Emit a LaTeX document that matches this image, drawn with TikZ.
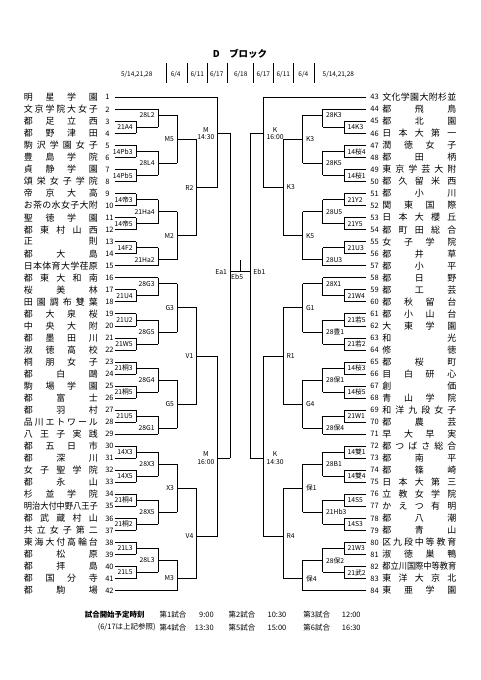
\documentclass[tikz,border=0pt]{standalone}
\usepackage{fontspec}
\setmainfont{Noto Sans CJK JP}
\usepackage{graphicx}

% noms repartis sur toute la largeur
\newlength\namew \setlength\namew{74bp}
\newsavebox\nmbox
\def\spreadchars#1#2\relax{#1\ifx\relax#2\relax\else\hfill\spreadchars#2\relax\fi}
\newcommand\teamnameX[1]{\sbox\nmbox{#1}%
  \ifdim\wd\nmbox>\namew\resizebox{\namew}{\height}{\usebox\nmbox}%
  \else\makebox[\namew][s]{\spreadchars#1\relax}\fi}
\newcommand\teamname[1]{\edef\tmpnm{#1}\expandafter\teamnameX\expandafter{\tmpnm}}

% colonnes
\def\cLa{114.5}\def\cLb{136}\def\cLc{158}\def\cLd{177.3}\def\cLe{196.7}\def\cLf{217.7}\def\cLg{230.3}
\def\cRa{366}\def\cRb{344.3}\def\cRc{322.7}\def\cRd{302.7}\def\cRe{283.3}\def\cRf{263.3}\def\cRg{250}

\newcounter{mc}
% match : x verticale, h haut, h bas, h sortie, x suivant, etiquette
\newcommand\mL[6]{\stepcounter{mc}%
  \draw (#1,#2)--(#1,#3) (#1,#4)--(#5,#4);
  \node[lblL] (m\themc) at (#1,#4) {#6};}
\newcommand\mR[6]{\stepcounter{mc}%
  \draw (#1,#2)--(#1,#3) (#1,#4)--(#5,#4);
  \node[lblR] (m\themc) at (#1,#4) {#6};}

\begin{document}
\begin{tikzpicture}[x=1bp,y=-1bp,line width=0.7bp]
\tikzstyle{lblL} = [anchor=east,xshift=-3bp,inner sep=0pt,align=center,font=\fontsize{6.8}{7.6}\selectfont]
\tikzstyle{lblR} = [anchor=west,xshift=3bp,inner sep=0pt,align=center,font=\fontsize{6.8}{7.6}\selectfont]
\tikzstyle{nameL} = [anchor=west,inner sep=0pt,font=\fontsize{9}{9}\selectfont]
\tikzstyle{numL} = [anchor=west,inner sep=0pt,font=\fontsize{7.5}{8}\selectfont]
\tikzstyle{datebox} = [inner sep=0pt,font=\fontsize{6.5}{7}\selectfont]
\tikzstyle{foot} = [inner sep=0pt,font=\fontsize{7.5}{8}\selectfont]
\useasboundingbox[fill=white] (0,0) rectangle (481,680);

%titre et dates
\node[font=\bfseries\fontsize{9.5}{10}\selectfont] (titre) at (240,54) {D　ブロック};
\foreach \x/\d [count=\k] in {136.7/{5/14,21,28},175.7/{6/4},197.3/{6/11},216.7/{6/17},240.7/{6/18},
  263.3/{6/17},283.3/{6/11},303.3/{6/4},338.3/{5/14,21,28}}
  \node[datebox] (d\k) at (\x,74.3) {\d};
\foreach \x in {166.7,187.3,207.3,227.7,253.3,273.3,293.3,314}
  \draw[line width=0.5bp] (\x,63)--(\x,83);

\begin{scope}[shift={(0,97.3)},y=-6.015bp]
%equipes gauche
\foreach \i/\nm in {1/明星学園,2/文京学院大女子,3/都足立西,4/都野津田,5/駒沢学園女子,6/豊島学院,
  7/貞静学園,8/頌栄女子学院,9/帝京大高,10/お茶の水女子大附,11/聖徳学園,12/都東村山西,13/正則,
  14/都大島,15/日本体育大学荏原,16/都東大和南,17/桜美林,18/田園調布雙葉,19/都大泉桜,20/中央大附,
  21/都墨田川,22/淑徳高校,23/桐朋女子,24/都白鷗,25/駒場学園,26/都富士,27/都羽村,28/品川エトワール,
  29/八王子実践,30/都五日市,31/都深川,32/女子聖学院,33/都永山,34/杉並学院,35/明治大付中野八王子,
  36/都武蔵村山,37/共立女子第二,38/東海大付高輪台,39/都松原,40/都拝島,41/都国分寺,42/都駒場}{
  \node[nameL] (a\i) at (23.5,{2*(\i-1)}) {\teamname{\nm}};
  \node[numL] (n\i) at (105,{2*(\i-1)}) {\i};
}
%equipes droite
\foreach \i/\nm in {43/文化学園大附杉並,44/都飛鳥,45/都北園,46/日本大第一,47/潤徳女子,48/都田柄,
  49/東京学芸大附,50/都久留米西,51/都小川,52/関東国際,53/日本大櫻丘,54/都町田総合,55/女子学院,
  56/都井草,57/都小平,58/都日野,59/都工芸,60/都秋留台,61/都小山台,62/大東学園,63/和光,64/修徳,
  65/都桜町,66/目白研心,67/創価,68/青山学院,69/和洋九段女子,70/都農芸,71/早大早実,72/都つばさ総合,
  73/都南平,74/都篠崎,75/日本大第三,76/立教女学院,77/かえつ有明,78/都八潮,79/都青山,
  80/区九段中等教育,81/淑徳巣鴨,82/都立川国際中等教育,83/東洋大京北,84/東亜学園}{
  \node[nameL] (a\i) at (382,{2*(\i-43)}) {\teamname{\nm}};
  \node[numL] (n\i) at (370,{2*(\i-43)}) {\i};
}

%lignes des equipes
\foreach \h in {4,6,...,26,32,34,...,54,58,60,...,80}
  \draw (\cLa,\h)--(\cLb,\h) (\cRa,\h)--(\cRb,\h);
\foreach \h in {2,28,30,56}
  \draw (\cLa,\h)--(\cLc,\h) (\cRa,\h)--(\cRc,\h);
\draw (\cLa,82)--(\cLd,82) (\cRa,82)--(\cRd,82);
\draw (\cLa,0)--(\cLf,0) (\cRa,0)--(\cRf,0);

%1er tour
\foreach \h/\t in {4/21A4,8/14Pb3,12/14Pb5,16/14帝3,20/14帝5,24/14F2,32/21U4,36/21U2,40/21W5,
  44/21桐3,48/21桐5,52/21U5,58/14X3,62/14X5,66/21桐4,70/21桐2,74/21L3,78/21L5}
  {\mL{\cLb}{\h}{\h+2}{\h+1}{\cLc}{\t}}
\foreach \h/\t in {4/14K3,8/14桜4,12/14桜1,16/21Y2,20/21Y5,24/21U3,32/21W4,36/21若5,40/21若2,
  44/14桜3,48/14桜5,52/21W1,58/14雙1,62/14雙4,66/14S5,70/14S3,74/21W3,78/21武2}
  {\mR{\cRb}{\h}{\h+2}{\h+1}{\cRc}{\t}}

%2e tour
\foreach \a/\b/\o/\t in {2/5/3/28L2,9/13/11/28L4,17/21/19/21Ha4,25/28/27/21Ha2,30/33/31/28G3,
  37/41/39/28G5,45/49/47/28G4,53/56/55/28G1,59/63/61/28X3,67/71/69/28X5,75/79/77/28L3}
  {\mL{\cLc}{\a}{\b}{\o}{\cLd}{\t}}
\foreach \a/\b/\o/\t in {2/5/3/28K3,9/13/11/28K5,17/21/19/28U5,25/28/27/28U3,30/33/31/28X1,
  37/41/39/28豊1,45/49/47/28保1,53/56/55/28保4,59/63/61/28B1,67/71/69/21Hb3,75/79/77/28保2}
  {\mR{\cRc}{\a}{\b}{\o}{\cRd}{\t}}

%3e tour
\foreach \a/\b/\o/\t in {3/11/7/M5,19/27/23/M2,31/39/35/G3,47/55/51/G5,61/69/65/X3,77/82/80/M3}
  {\mL{\cLd}{\a}{\b}{\o}{\cLe}{\t}}
\foreach \a/\b/\o/\t in {3/11/7/K3,19/27/23/K5,31/39/35/G1,47/55/51/G4,61/69/65/保1,77/82/80/保4}
  {\mR{\cRd}{\a}{\b}{\o}{\cRe}{\t}}

%4e tour
\foreach \a/\b/\o/\t in {7/23/15/R2,35/51/43/V1,65/80/73/V4}
  {\mL{\cLe}{\a}{\b}{\o}{\cLf}{\t}}
\foreach \a/\b/\o/\t in {7/23/15/K3,35/51/43/R1,65/80/73/R4}
  {\mR{\cRe}{\a}{\b}{\o}{\cRf}{\t}}

%demi-finales
\foreach \a/\b/\o/\t in {0/15/6/{M\\14:30},43/73/60/{M\\16:00}}
  {\mL{\cLf}{\a}{\b}{\o}{\cLg}{\t}}
\foreach \a/\b/\o/\t in {0/15/6/{K\\16:00},43/73/60/{K\\14:30}}
  {\mR{\cRf}{\a}{\b}{\o}{\cRg}{\t}}

%finale
\draw (\cLg,6)--(\cLg,60) (\cRg,6)--(\cRg,60);
\draw (\cLg,29)--(\cRg,29) (240.2,27)--(240.2,29);
\node[lblL] (ea) at (\cLg,29) {Ea1};
\node[lblR] (eb) at (\cRg,29) {Eb1};
\node[lblL,anchor=north,xshift=0pt,yshift=-2bp] (eb5) at (240.2,29) {Eb5};
\end{scope}

%horaires
\node[foot,font=\bfseries\fontsize{7.5}{8}\selectfont] (f0) at (114.7,615) {試合開始予定時刻};
\node[foot] (f00) at (126.7,627.5) {(6/17は上記参照)};
\foreach \y/\a/\b/\c/\ta/\tb/\tc in {615/1/2/3/9:00/10:30/12:00,627.5/4/5/6/13:30/15:00/16:30}{
  \node[foot] (g\a) at (173,\y) {第\a 試合};
  \node[foot,anchor=east] (h\a) at (214,\y) {\ta};
  \node[foot] (g\b) at (242,\y) {第\b 試合};
  \node[foot] (h\b) at (277,\y) {\tb};
  \node[foot] (g\c) at (316.7,\y) {第\c 試合};
  \node[foot] (h\c) at (351.3,\y) {\tc};
}
\end{tikzpicture}
\end{document}
